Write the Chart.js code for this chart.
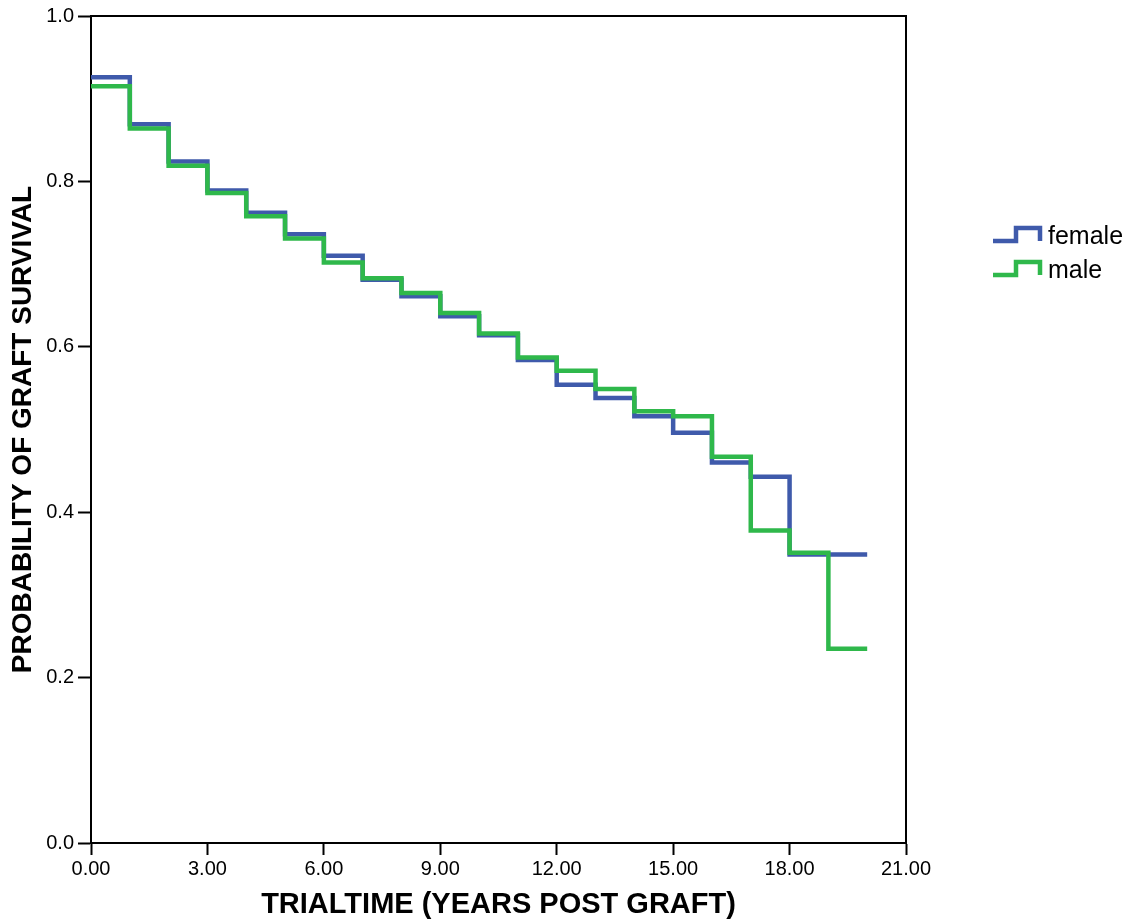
<!DOCTYPE html>
<html>
<head>
<meta charset="utf-8">
<script src="https://cdn.jsdelivr.net/npm/chart.js@4/dist/chart.umd.min.js"></script>
<style>
    html, body { margin: 0; padding: 0; background: #fff; }
    #wrap { width: 1137px; height: 919px; }
</style>
</head>
<body>
<div id="wrap"><canvas id="survivalChart" width="1137" height="919"></canvas></div>
<script>
// Kaplan-Meier estimates, one value per year interval (last entry = end of follow-up)
const years = [0, 1, 2, 3, 4, 5, 6, 7, 8, 9, 10, 11, 12, 13, 14, 15, 16, 17, 18, 19, 20];
const femaleSurvival = [0.926, 0.869, 0.824, 0.789, 0.762, 0.736, 0.710, 0.681, 0.661, 0.637, 0.614,
    0.584, 0.554, 0.538, 0.516, 0.496, 0.460, 0.443, 0.349, 0.349, 0.349];
const maleSurvival = [0.915, 0.864, 0.819, 0.786, 0.758, 0.731, 0.702, 0.683, 0.665, 0.641, 0.616,
    0.587, 0.571, 0.549, 0.522, 0.516, 0.467, 0.378, 0.351, 0.235, 0.235];

const groupNames = ['female', 'male'];
const groupColors = ['#3f5aab', '#2fb84b'];

const fontFamily = '"Liberation Sans", Arial, sans-serif';

function toPoints(values) {
    return years.map((t, i) => ({ x: t, y: values[i] }));
}

// Frame on top/right of the plot plus the step-shaped legend
const framePlugin = {
    id: 'frameAndLegend',
    afterDraw(chart) {
        const ctx = chart.ctx;
        const area = chart.chartArea;
        ctx.save();
        ctx.strokeStyle = '#000';
        ctx.lineWidth = 2;
        ctx.beginPath();
        ctx.moveTo(area.left, area.top);
        ctx.lineTo(area.right, area.top);
        ctx.lineTo(area.right, area.bottom);
        ctx.stroke();

        // legend
        const lx = 993;
        let ly = 241;
        ctx.lineWidth = 4.5;
        ctx.lineJoin = 'miter';
        ctx.font = '25px ' + fontFamily;
        ctx.textBaseline = 'middle';
        ctx.textAlign = 'left';
        groupNames.forEach((name, i) => {
            ctx.strokeStyle = groupColors[i];
            ctx.beginPath();
            ctx.moveTo(lx, ly);
            ctx.lineTo(lx + 23, ly);
            ctx.lineTo(lx + 23, ly - 13);
            ctx.lineTo(lx + 47, ly - 13);
            ctx.lineTo(lx + 47, ly);
            ctx.stroke();
            ctx.fillStyle = '#000';
            ctx.fillText(name, lx + 55, ly - 4);
            ly += 34;
        });
        ctx.restore();
    }
};

const survivalChart = new Chart(document.getElementById('survivalChart').getContext('2d'), {
    type: 'line',
    data: {
        datasets: [{
            label: groupNames[0],
            data: toPoints(femaleSurvival),
            borderColor: groupColors[0],
            borderWidth: 4.5,
            stepped: 'before',
            pointRadius: 0,
            fill: false,
            order: 1
        }, {
            label: groupNames[1],
            data: toPoints(maleSurvival),
            borderColor: groupColors[1],
            borderWidth: 4.5,
            stepped: 'before',
            pointRadius: 0,
            fill: false,
            order: 0
        }]
    },
    options: {
        responsive: false,
        animation: false,
        devicePixelRatio: 1,
        layout: {
            padding: { top: 13, right: 231, left: 0, bottom: 0 }
        },
        scales: {
            x: {
                type: 'linear',
                min: 0,
                max: 21,
                afterFit: (scale) => { scale.height = 76; },
                title: {
                    display: true,
                    text: 'TRIALTIME (YEARS POST GRAFT)',
                    color: '#000',
                    font: { family: fontFamily, size: 29, weight: 'bold', lineHeight: 1 },
                    padding: { top: 0, bottom: 0 }
                },
                grid: {
                    drawOnChartArea: false,
                    drawTicks: true,
                    tickLength: 12,
                    tickWidth: 2,
                    tickColor: '#000'
                },
                border: { color: '#000', width: 2 },
                ticks: {
                    stepSize: 3,
                    color: '#000',
                    padding: 2,
                    maxRotation: 0,
                    font: { family: fontFamily, size: 20 },
                    callback: (v) => v.toFixed(2)
                }
            },
            y: {
                min: 0,
                max: 1,
                afterFit: (scale) => { scale.width = 91; },
                title: {
                    display: true,
                    text: 'PROBABILITY OF GRAFT SURVIVAL',
                    color: '#000',
                    font: { family: fontFamily, size: 28, weight: 'bold', lineHeight: 1 },
                    padding: { top: 9, bottom: 0 }
                },
                grid: {
                    drawOnChartArea: false,
                    drawTicks: true,
                    tickLength: 13,
                    tickWidth: 2,
                    tickColor: '#000'
                },
                border: { color: '#000', width: 2 },
                ticks: {
                    stepSize: 0.2,
                    color: '#000',
                    padding: 4,
                    font: { family: fontFamily, size: 20 },
                    callback: (v) => v.toFixed(1)
                }
            }
        },
        plugins: {
            legend: { display: false },
            tooltip: { enabled: false }
        }
    },
    plugins: [framePlugin]
});
</script>
</body>
</html>
